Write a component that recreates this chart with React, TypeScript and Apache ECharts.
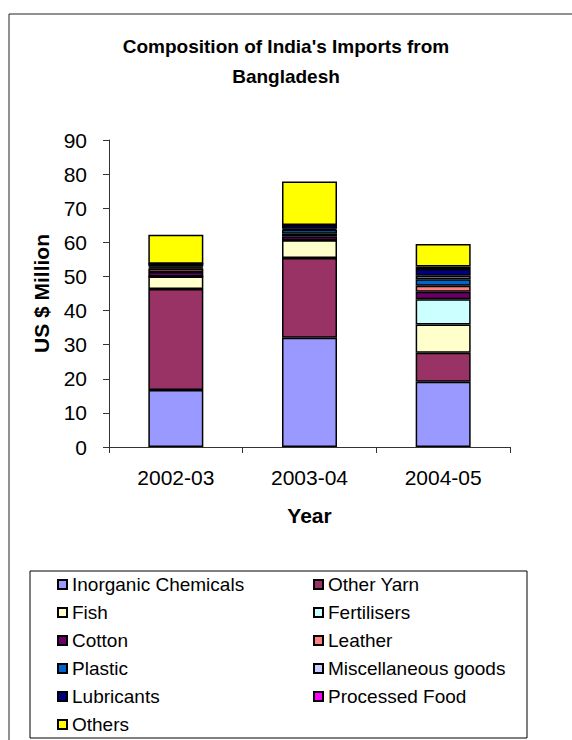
import React, { useEffect, useRef } from "react";
import * as echarts from "echarts";

const categories = ["2002-03", "2003-04", "2004-05"];

const inorganicChemicals = [16.7, 32.0, 19.1];
const otherYarn = [29.6, 23.4, 8.5];
const fish = [3.7, 5.2, 8.3];
const fertilisers = [0, 0, 7.4];
const cotton = [1.3, 1.2, 2.2];
const leather = [1.0, 0.7, 1.8];
const plastic = [0.3, 1.2, 1.9];
const miscellaneousGoods = [0.3, 0.3, 1.0];
const lubricants = [0.8, 1.1, 2.0];
const processedFood = [0, 0, 0.7];
const others = [8.5, 12.7, 6.6];

const seriesNames = [
  "Inorganic Chemicals",
  "Other Yarn",
  "Fish",
  "Fertilisers",
  "Cotton",
  "Leather",
  "Plastic",
  "Miscellaneous goods",
  "Lubricants",
  "Processed Food",
  "Others",
];
const seriesValues = [
  inorganicChemicals,
  otherYarn,
  fish,
  fertilisers,
  cotton,
  leather,
  plastic,
  miscellaneousGoods,
  lubricants,
  processedFood,
  others,
];
const seriesColors = [
  "#9999FF",
  "#993366",
  "#FFFFCC",
  "#CCFFFF",
  "#660066",
  "#FF8080",
  "#0066CC",
  "#CCCCFF",
  "#000080",
  "#FF00FF",
  "#FFFF00",
];

const FONT = "'Liberation Sans', Arial, sans-serif";

export default function App() {
  const ref = useRef<HTMLDivElement>(null);

  useEffect(() => {
    if (!ref.current) return;
    const chart = echarts.init(ref.current, null, { renderer: "svg" });

    // two legend columns, filled row by row in series order
    const legendCol1 = seriesNames.filter((_, i) => i % 2 === 0);
    const legendCol2 = seriesNames.filter((_, i) => i % 2 === 1);
    const legendCommon = {
      orient: "vertical" as const,
      top: 575,
      height: 165,
      padding: 0,
      itemGap: 9,
      itemWidth: 9,
      itemHeight: 9,
      icon: "rect",
      textStyle: { fontFamily: FONT, fontSize: 19, lineHeight: 19, color: "#000" },
      selectedMode: false,
    };

    chart.setOption({
      animation: false,
      backgroundColor: "#fff",
      textStyle: { fontFamily: FONT },
      title: {
        text: "Composition of India's Imports from\nBangladesh",
        left: "center",
        top: 31,
        padding: 0,
        textStyle: {
          fontFamily: FONT,
          fontSize: 19,
          fontWeight: "bold",
          color: "#000",
          lineHeight: 30,
        },
      },
      legend: [
        { ...legendCommon, left: 57, data: legendCol1 },
        { ...legendCommon, left: 313, data: legendCol2 },
      ],
      grid: { left: 109, right: 62, top: 140, bottom: 293 },
      xAxis: {
        type: "category",
        data: categories,
        name: "Year",
        nameLocation: "middle",
        nameGap: 58,
        nameTextStyle: { fontFamily: FONT, fontSize: 21, fontWeight: "bold", color: "#000" },
        axisLine: { lineStyle: { color: "#333", width: 1 } },
        axisTick: { show: true, length: 6, alignWithLabel: false, lineStyle: { color: "#333" } },
        axisLabel: { fontFamily: FONT, fontSize: 21, color: "#000", margin: 20 },
      },
      yAxis: {
        type: "value",
        min: 0,
        max: 90,
        interval: 10,
        name: "US $ Million",
        nameLocation: "middle",
        nameGap: 57,
        nameTextStyle: { fontFamily: FONT, fontSize: 21, fontWeight: "bold", color: "#000" },
        axisLine: { show: true, lineStyle: { color: "#333", width: 1 } },
        axisTick: { show: true, length: 6, lineStyle: { color: "#333" } },
        axisLabel: { fontFamily: FONT, fontSize: 21, color: "#000", margin: 22 },
        splitLine: { show: false },
      },
      series: seriesNames.map((name, i) => ({
        name,
        type: "bar",
        stack: "total",
        barWidth: 55,
        data: seriesValues[i],
        itemStyle: { color: seriesColors[i], borderColor: "#000", borderWidth: 1.5 },
      })),
      graphic: [
        {
          type: "line",
          shape: { x1: 9, y1: 14, x2: 572, y2: 14 },
          style: { stroke: "#222", lineWidth: 1 },
        },
        {
          type: "line",
          shape: { x1: 9, y1: 14, x2: 9, y2: 740 },
          style: { stroke: "#222", lineWidth: 1 },
        },
        {
          type: "rect",
          shape: { x: 30, y: 571, width: 497, height: 167 },
          style: { fill: "none", stroke: "#000", lineWidth: 1 },
          z: 10,
        },
      ],
    });

    return () => chart.dispose();
  }, []);

  return (
    <div
      ref={ref}
      style={{ position: "absolute", left: 0, top: 0, width: 572, height: 740 }}
    />
  );
}
